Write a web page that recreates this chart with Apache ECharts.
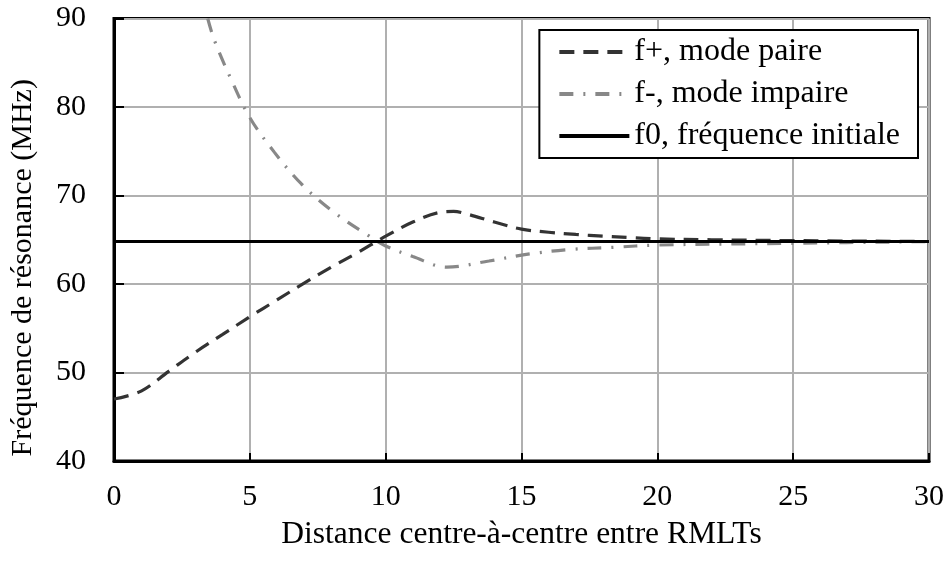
<!DOCTYPE html>
<html>
<head>
<meta charset="utf-8">
<script src="https://cdn.jsdelivr.net/npm/echarts@6/dist/echarts.min.js"></script>
<style>html,body{margin:0;padding:0;background:#fff}#c{width:947px;height:562px}</style>
</head>
<body>
<div id="c"></div>
<script>
var xTicks = [0, 5, 10, 15, 20, 25, 30];
var yTicks = [40, 50, 60, 70, 80, 90];
var fPlusX = [0, 1, 2, 3, 4, 5, 6, 7, 8, 9, 10, 11, 12, 12.5, 13, 14, 15, 16, 17, 18, 19, 20, 22, 25, 30];
var fPlusY = [47.0, 47.9, 50.1, 52.3, 54.3, 56.3, 58.2, 60.1, 61.9, 63.6, 65.4, 67.0, 68.1, 68.2, 67.9, 67.0, 66.2, 65.85, 65.6, 65.4, 65.25, 65.1, 65.0, 64.9, 64.8];
var fMinusX = [3.45, 3.7, 4.3, 5.0, 5.9, 6.9, 8.1, 9.4, 10, 11, 12.25, 13.8, 15.3, 16.8, 18.4, 20, 25, 30];
var fMinusY = [90.0, 87.5, 83.2, 78.8, 74.9, 71.3, 68.1, 65.4, 64.3, 63.1, 61.9, 62.6, 63.4, 63.9, 64.15, 64.4, 64.6, 64.8];
var f0X = [0, 30];
var f0Y = [64.8, 64.8];
var names = ['f+, mode paire', 'f-, mode impaire', 'f0, fréquence initiale'];

function pairs(xs, ys) { return xs.map(function (x, i) { return [x, ys[i]]; }); }

var font = 'Liberation Serif';
var chart = echarts.init(document.getElementById('c'), null, { renderer: 'canvas' });
chart.setOption({
  animation: false,
  backgroundColor: '#fff',
  grid: { left: 113.5, right: 17.5, top: 18.5, bottom: 101, show: true, borderColor: '#000', borderWidth: 3, backgroundColor: 'transparent' },
  legend: {
    orient: 'vertical', right: 29, top: 30,
    data: names,
    backgroundColor: '#fff', borderColor: '#000', borderWidth: 2,
    padding: [6, 18, 6, 18],
    itemWidth: 70, itemHeight: 6, itemGap: 10,
    itemStyle: { color: 'transparent', borderWidth: 0, opacity: 0 },
    lineStyle: { width: 4 },
    textStyle: { fontFamily: font, fontSize: 32, color: '#000' }
  },
  xAxis: {
    type: 'value', min: 0, max: 30, interval: 5,
    name: 'Distance centre-à-centre entre RMLTs', nameLocation: 'middle', nameGap: 58,
    nameTextStyle: { fontFamily: font, fontSize: 31.5, color: '#000' },
    axisLine: { lineStyle: { color: '#000', width: 3 } },
    axisTick: { inside: true, length: 8, lineStyle: { color: '#000', width: 2 } },
    axisLabel: { fontFamily: font, fontSize: 30, color: '#000', margin: 21 },
    splitLine: { show: true, lineStyle: { color: '#b0b0b0', width: 2 } }
  },
  yAxis: {
    type: 'value', min: 40, max: 90, interval: 10,
    name: 'Fréquence de résonance (MHz)', nameLocation: 'middle', nameGap: 76,
    nameTextStyle: { fontFamily: font, fontSize: 30, color: '#000', padding: [0, 56, 0, 0] },
    axisLine: { lineStyle: { color: '#000', width: 3 } },
    axisTick: { inside: true, length: 10, lineStyle: { color: '#000', width: 2 } },
    axisLabel: { fontFamily: font, fontSize: 30, color: '#000', margin: 28 },
    splitLine: { show: true, lineStyle: { color: '#b0b0b0', width: 2 } }
  },
  series: [
    { name: names[0], type: 'line', data: pairs(fPlusX, fPlusY), smooth: 0.35, symbol: 'none', z: 3,
      lineStyle: { color: '#333', width: 3.2, type: [15, 9] }, itemStyle: { color: '#333' } },
    { name: names[1], type: 'line', data: pairs(fMinusX, fMinusY), smooth: 0.35, symbol: 'none', z: 2,
      lineStyle: { color: '#888', width: 3.2, type: [14, 10, 2, 10] }, itemStyle: { color: '#888' } },
    { name: names[2], type: 'line', data: pairs(f0X, f0Y), symbol: 'none', z: 4,
      lineStyle: { color: '#000', width: 3 }, itemStyle: { color: '#000' } }
  ]
});
</script>
</body>
</html>
